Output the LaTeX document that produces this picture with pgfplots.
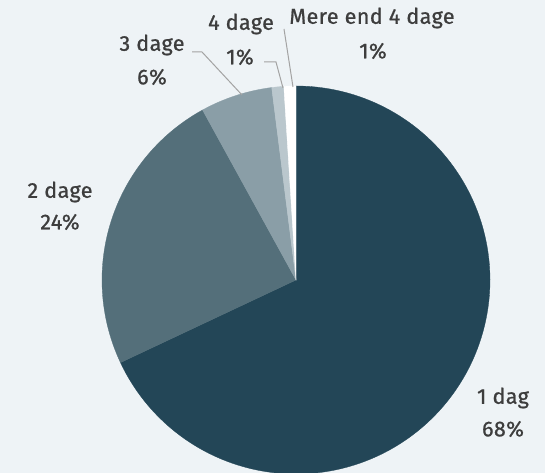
\documentclass[border=0pt]{standalone}
\usepackage{pgfplots}
\pgfplotsset{compat=1.18}
\usepackage{fontspec}
\setmainfont{Fira Sans}
\newfontfamily\lblfont{Fira Sans}[RawFeature={embolden=0.9}, LetterSpace=2]
\definecolor{bg}{HTML}{EEF3F6}
\definecolor{c1}{HTML}{234657}
\definecolor{c2}{HTML}{546F7A}
\definecolor{c3}{HTML}{8A9EA7}
\definecolor{c4}{HTML}{BAC7CD}
\definecolor{c5}{HTML}{FFFFFF}
\definecolor{txt}{HTML}{3D3D3D}
\definecolor{lead}{HTML}{A3A3A3}
\tikzset{lbl/.style={font=\lblfont\fontsize{21.5}{24}\selectfont, text=txt, inner sep=0pt}}
\begin{document}
\begin{tikzpicture}
\begin{axis}[
  scale only axis, width=545pt, height=473pt,
  xmin=-296, xmax=249, ymin=-193, ymax=280,
  axis lines=none, ticks=none,
  axis background/.style={fill=bg},
  clip=true,
]
% shares in percent: 68, 24, 6, 1, 1 ; clockwise from 90 degrees, radius 194
\addplot[fill=c1, draw=c1, line width=0.3pt, data cs=polar, domain={90-3.6*68}:90, samples=200] {194} -- (axis cs:0,0) -- cycle;
\addplot[fill=c2, draw=c2, line width=0.3pt, data cs=polar, domain={90-3.6*92}:{90-3.6*68}, samples=80] {194} -- (axis cs:0,0) -- cycle;
\addplot[fill=c3, draw=c3, line width=0.3pt, data cs=polar, domain={90-3.6*98}:{90-3.6*92}, samples=30] {194} -- (axis cs:0,0) -- cycle;
\addplot[fill=c4, draw=c4, line width=0.3pt, data cs=polar, domain={90-3.6*99}:{90-3.6*98}, samples=10] {194} -- (axis cs:0,0) -- cycle;
\addplot[fill=c5, draw=c5, line width=0.3pt, data cs=polar, domain={90-3.6*100}:{90-3.6*99}, samples=10] {194} -- (axis cs:0,0) -- cycle;
% leader lines
\addplot[lead, line width=1pt] coordinates {(-104,228) (-94,228) (-54,185)};
\addplot[lead, line width=1pt] coordinates {(-32,218) (-20,218) (-13,192)};
\addplot[lead, line width=1pt] coordinates {(-12,251) (-3,193)};
% labels
\node[lbl] at (axis cs:-144,235) {3 dage};
\node[lbl] at (axis cs:-144,203) {6\%};
\node[lbl] at (axis cs:-55,256) {4 dage};
\node[lbl] at (axis cs:-56,223) {1\%};
\node[lbl] at (axis cs:76,262) {Mere end 4 dage};
\node[lbl] at (axis cs:77,229) {1\%};
\node[lbl] at (axis cs:-236,88) {2 dage};
\node[lbl] at (axis cs:-236,58) {24\%};
\node[lbl] at (axis cs:207,-118) {1 dag};
\node[lbl] at (axis cs:207,-149) {68\%};
\end{axis}
\end{tikzpicture}
\end{document}
